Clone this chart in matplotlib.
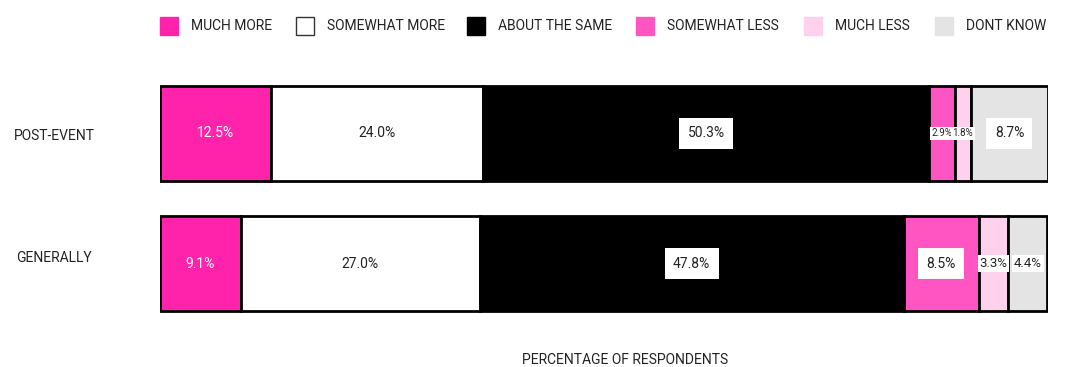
import matplotlib
matplotlib.use("Agg")
import matplotlib.pyplot as plt
from matplotlib.patches import Rectangle
import matplotlib.transforms as mtransforms

plt.rcParams["font.family"] = ["Roboto", "DejaVu Sans"]

# survey answers, one row per question
groups = ["POST-EVENT", "GENERALLY"]
categories = ["MUCH MORE", "SOMEWHAT MORE", "ABOUT THE SAME",
              "SOMEWHAT LESS", "MUCH LESS", "DONT KNOW"]
post_event = [12.5, 24.0, 50.3, 2.9, 1.8, 8.7]
generally = [9.1, 27.0, 47.8, 8.5, 3.3, 4.4]

colors = ["#ff22ab", "#ffffff", "#000000", "#ff55c3", "#ffd1ec", "#e4e4e4"]
TEXT = "#222222"

W, H = 1065, 367
fig = plt.figure(figsize=(W / 100, H / 100), dpi=100)
ax = fig.add_axes([160 / W, 1 - 328.5 / H, 888 / W, 260 / H])

rows = [post_event, generally]
ypos = [1, 0]
for vals, y in zip(rows, ypos):
    left = 0.0
    for i, v in enumerate(vals):
        ax.barh(y, v, left=left, height=0.73, color=colors[i],
                edgecolor="black", linewidth=2)
        cx = left + v / 2
        label = f"{v:.1f}%"
        if i == 0:
            ax.text(cx, y, label, ha="center", va="center",
                    color="white", fontsize=10)
            left += v
            continue
        # narrow segments get a smaller label so neighbours don't collide
        if v < 3:
            size, pad = 7, 0.2
        elif v < 5:
            size, pad = 9.5, 0.15
        else:
            size, pad = 10, 0.6
        ax.text(cx, y, label, ha="center", va="center",
                color=TEXT, fontsize=size,
                bbox=dict(boxstyle=f"square,pad={pad}", facecolor="white",
                          edgecolor="none"))
        left += v

ax.set_xlim(0, max(sum(post_event), sum(generally)))
ax.set_ylim(-0.5, 1.5)
ax.set_xticks([])
ax.set_yticks([])
for s in ax.spines.values():
    s.set_visible(False)

# row names to the left of the bars
trans = mtransforms.blended_transform_factory(fig.transFigure, ax.transData)
for name, y, dy in zip(groups, ypos, [-0.02, 0.04]):
    fig.text(54 / W, y + dy, name, transform=trans, ha="center",
             va="center", fontsize=10, color=TEXT)

fig.text(625 / W, 1 - 360 / H, "PERCENTAGE OF RESPONDENTS",
         ha="center", va="center", fontsize=10, color=TEXT)

# legend row across the top
leg_x = [160, 296, 467, 636, 804, 935]
for x, c, name in zip(leg_x, colors, categories):
    fig.add_artist(Rectangle((x / W, 1 - 35 / H), 18 / W, 18 / H,
                             transform=fig.transFigure, facecolor=c,
                             edgecolor="#333333" if c == "#ffffff" else c,
                             linewidth=1))
    fig.text((x + 31) / W, 1 - 26 / H, name, ha="left", va="center",
             fontsize=10, color=TEXT)

fig.savefig("out.png", dpi=100)
